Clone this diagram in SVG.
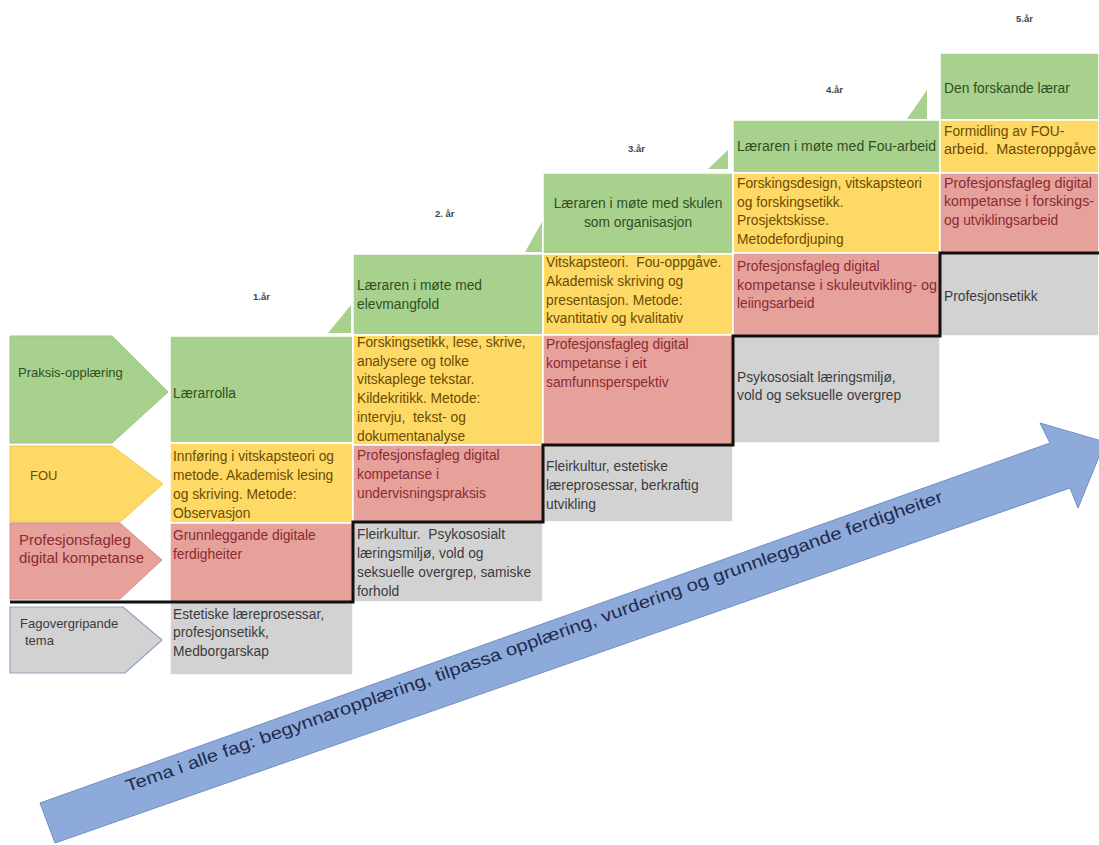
<svg xmlns="http://www.w3.org/2000/svg" width="1099" height="845" viewBox="0 0 1099 845">
<style>
.bg{fill:#ffffff}
.g{fill:#a9d18e;stroke:#ffffff;stroke-width:1.5}
.y{fill:#ffd966;stroke:#ffffff;stroke-width:1.5}
.p{fill:#e6a19a;stroke:#ffffff;stroke-width:1.5}
.gr{fill:#d3d2d2;stroke:#ffffff;stroke-width:1.5}
.tri{fill:#a9d18e}
.lg{fill:#a9d18e;stroke:#9cc382;stroke-width:1}
.ly{fill:#ffd966;stroke:#f0c850;stroke-width:1}
.lp{fill:#e6a19a;stroke:#d9928a;stroke-width:1}
.lgr{fill:#d3d2d2;stroke:#8fa3bd;stroke-width:1.2}
text{font-family:"Liberation Sans",Arial,sans-serif;font-size:13.8px;white-space:pre}
.tg{fill:#2f4f1f}
.ty{fill:#6b4c00}
.tp{fill:#8a2b33}
.tgr{fill:#3b3b3b}
.yr{font-size:9.5px;font-weight:bold;fill:#444444}
.small{font-size:13px}
.mid{font-size:15px}
.stair{fill:none;stroke:#111111;stroke-width:3}
.arrow{fill:#8eaadb;stroke:#6f8fc4;stroke-width:1}
.at{font-size:17px;fill:#1f2a4d}
</style>
<rect class="bg" x="0" y="0" width="1099" height="845"/>

<g id="years">
<text class="yr" x="1016" y="22">5.år</text>
<text class="yr" x="826" y="93">4.år</text>
<text class="yr" x="628" y="152">3.år</text>
<text class="yr" x="435" y="217">2. år</text>
<text class="yr" x="253" y="300">1.år</text>
</g>

<g id="triangles">
<polygon class="tri" points="328,333 351,305 351,333"/>
<polygon class="tri" points="525,252 542,222 542,252"/>
<polygon class="tri" points="708,169 728,150 728,169"/>
<polygon class="tri" points="907,119 927,90 927,119"/>
</g>

<g id="label-praksis">
<polygon class="lg" points="10,336 112,336 168,392 112,443 10,443"/>
<text class="tg small" x="18" y="377">Praksis-opplæring</text>
</g>
<g id="label-fou">
<polygon class="ly" points="10,446 112,446 163,484 120,522 10,522"/>
<text class="ty small" x="30" y="480">FOU</text>
</g>
<g id="label-digital">
<polygon class="lp" points="10,523 120,523 162,560 120,599 10,599"/>
<text class="tp mid" x="19" y="545">Profesjonsfagleg</text>
<text class="tp mid" x="19" y="563">digital kompetanse</text>
</g>
<g id="label-fagover">
<polygon class="lgr" points="10,607 123,607 162,640 125,673 10,673"/>
<text class="tgr small" x="20" y="628">Fagovergripande</text>
<text class="tgr small" x="25" y="645">tema</text>
</g>

<g id="year1">
<rect class="g" x="170" y="336" width="183" height="107"/>
<text class="tg" x="173" y="398">Lærarrolla</text>
<rect class="y" x="170" y="443" width="183" height="80"/>
<text class="ty" x="173" y="461">Innføring i vitskapsteori og</text>
<text class="ty" x="173" y="480">metode. Akademisk lesing</text>
<text class="ty" x="173" y="499">og skriving. Metode:</text>
<text class="ty" x="173" y="518">Observasjon</text>
<rect class="p" x="170" y="523" width="183" height="79"/>
<text class="tp" x="173" y="540">Grunnleggande digitale</text>
<text class="tp" x="173" y="559">ferdigheiter</text>
<rect class="gr" x="170" y="602" width="183" height="73"/>
<text class="tgr" x="173" y="619">Estetiske læreprosessar,</text>
<text class="tgr" x="173" y="637">profesjonsetikk,</text>
<text class="tgr" x="173" y="656">Medborgarskap</text>
</g>

<g id="year2">
<rect class="g" x="353" y="254" width="190" height="81"/>
<text class="tg" x="357" y="290">Læraren i møte med</text>
<text class="tg" x="357" y="309">elevmangfold</text>
<rect class="y" x="353" y="335" width="190" height="110"/>
<text class="ty" x="357" y="347">Forskingsetikk, lese, skrive,</text>
<text class="ty" x="357" y="366">analysere og tolke</text>
<text class="ty" x="357" y="384">vitskaplege tekstar.</text>
<text class="ty" x="357" y="403">Kildekritikk. Metode:</text>
<text class="ty" x="357" y="422">intervju,  tekst- og</text>
<text class="ty" x="357" y="441">dokumentanalyse</text>
<rect class="p" x="353" y="445" width="190" height="77"/>
<text class="tp" x="357" y="460">Profesjonsfagleg digital</text>
<text class="tp" x="357" y="479">kompetanse i</text>
<text class="tp" x="357" y="498">undervisningspraksis</text>
<rect class="gr" x="353" y="522" width="190" height="80"/>
<text class="tgr" x="357" y="539">Fleirkultur.  Psykososialt</text>
<text class="tgr" x="357" y="558">læringsmiljø, vold og</text>
<text class="tgr" x="357" y="577">seksuelle overgrep, samiske</text>
<text class="tgr" x="357" y="596">forhold</text>
</g>

<g id="year3">
<rect class="g" x="543" y="173" width="190" height="81"/>
<text class="tg" x="638" y="208" text-anchor="middle">Læraren i møte med skulen</text>
<text class="tg" x="638" y="227" text-anchor="middle">som organisasjon</text>
<rect class="y" x="543" y="254" width="190" height="81"/>
<text class="ty" x="546" y="267">Vitskapsteori.  Fou-oppgåve.</text>
<text class="ty" x="546" y="286">Akademisk skriving og</text>
<text class="ty" x="546" y="305">presentasjon. Metode:</text>
<text class="ty" x="546" y="323">kvantitativ og kvalitativ</text>
<rect class="p" x="543" y="335" width="190" height="110"/>
<text class="tp" x="546" y="349">Profesjonsfagleg digital</text>
<text class="tp" x="546" y="368">kompetanse i eit</text>
<text class="tp" x="546" y="387">samfunnsperspektiv</text>
<rect class="gr" x="543" y="445" width="190" height="77"/>
<text class="tgr" x="546" y="471">Fleirkultur, estetiske</text>
<text class="tgr" x="546" y="490">læreprosessar, berkraftig</text>
<text class="tgr" x="546" y="509">utvikling</text>
</g>

<g id="year4">
<rect class="g" x="733" y="120" width="207" height="53"/>
<text class="tg" x="737" y="151" textLength="199" lengthAdjust="spacingAndGlyphs">Læraren i møte med Fou-arbeid</text>
<rect class="y" x="733" y="173" width="207" height="80"/>
<text class="ty" x="737" y="188">Forskingsdesign, vitskapsteori</text>
<text class="ty" x="737" y="207">og forskingsetikk.</text>
<text class="ty" x="737" y="225">Prosjektskisse.</text>
<text class="ty" x="737" y="244">Metodefordjuping</text>
<rect class="p" x="733" y="253" width="207" height="83"/>
<text class="tp" x="737" y="271">Profesjonsfagleg digital</text>
<text class="tp" x="737" y="290" textLength="200" lengthAdjust="spacingAndGlyphs">kompetanse i skuleutvikling- og</text>
<text class="tp" x="737" y="308">leiingsarbeid</text>
<rect class="gr" x="733" y="336" width="207" height="107"/>
<text class="tgr" x="737" y="382">Psykososialt læringsmiljø,</text>
<text class="tgr" x="737" y="400">vold og seksuelle overgrep</text>
</g>

<g id="year5">
<rect class="g" x="940" y="53" width="159" height="67"/>
<text class="tg" x="944" y="93">Den forskande lærar</text>
<rect class="y" x="940" y="120" width="159" height="53"/>
<text class="ty" x="944" y="136">Formidling av FOU-</text>
<text class="ty" x="944" y="154" textLength="152" lengthAdjust="spacingAndGlyphs">arbeid.  Masteroppgåve</text>
<rect class="p" x="940" y="173" width="159" height="80"/>
<text class="tp" x="944" y="188" textLength="148" lengthAdjust="spacingAndGlyphs">Profesjonsfagleg digital</text>
<text class="tp" x="944" y="206" textLength="150" lengthAdjust="spacingAndGlyphs">kompetanse i forskings-</text>
<text class="tp" x="944" y="225">og utviklingsarbeid</text>
<rect class="gr" x="940" y="253" width="159" height="83"/>
<text class="tgr" x="944" y="301">Profesjonsetikk</text>
</g>

<g id="connectors">
<polyline class="stair" points="10,602 353,602 353,522 543,522 543,445 733,445 733,336 940,336 940,253 1099,253"/>
</g>

<g id="theme-arrow">
<polygon class="arrow" points="40,803 1050,443 1040,423 1105,442 1078,508 1070,488 55,843"/>
<text class="at" transform="translate(128,792) rotate(-19.6)" textLength="866" lengthAdjust="spacingAndGlyphs">Tema i alle fag: begynnaropplæring, tilpassa opplæring, vurdering og grunnleggande ferdigheiter</text>
</g>
</svg>
